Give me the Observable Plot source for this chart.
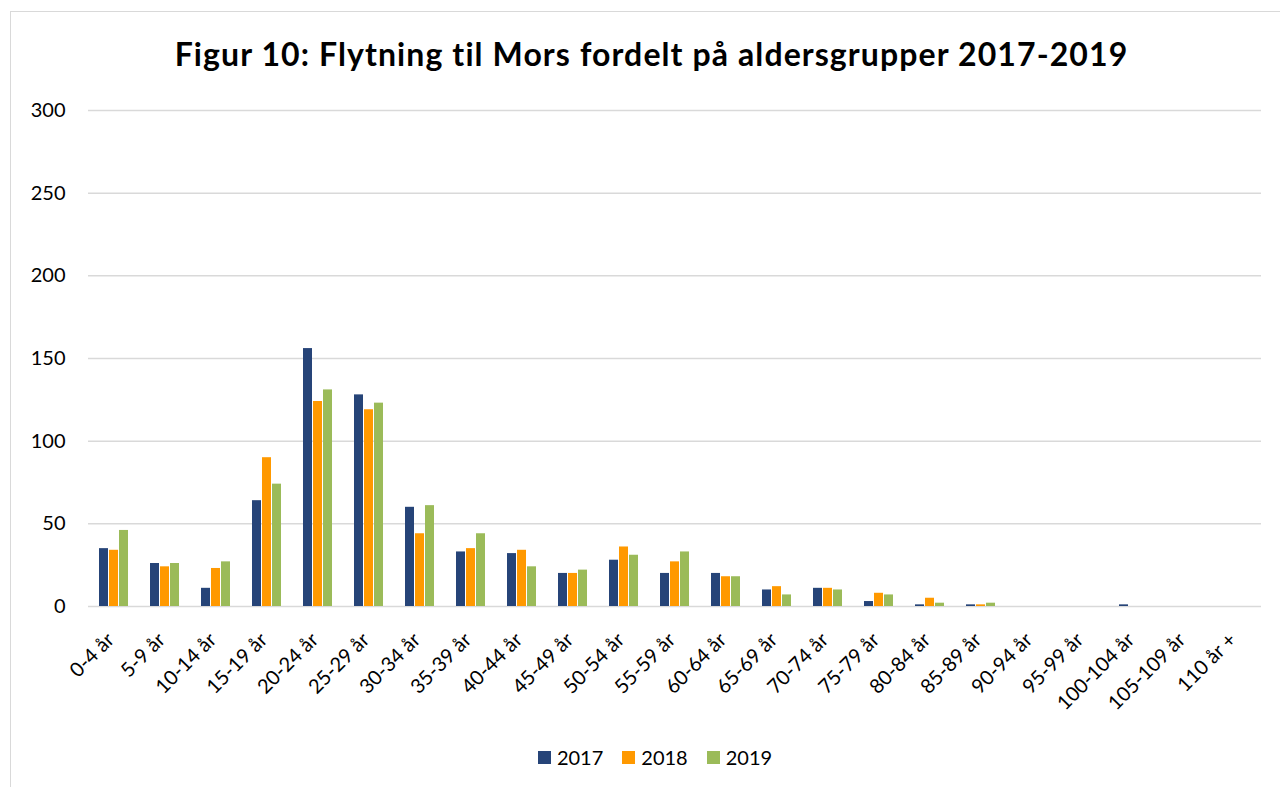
<!DOCTYPE html>
<html>
<head>
<meta charset="utf-8">
<script src="https://cdn.jsdelivr.net/npm/d3@7"></script>
<script src="https://cdn.jsdelivr.net/npm/@observablehq/plot@0.6"></script>
<style>
  html, body { margin: 0; padding: 0; background: #fff; overflow: hidden; }
  body { width: 1280px; height: 787px; position: relative; font-family: Lato, "Open Sans", sans-serif; }
  #frame { position: absolute; left: 10px; top: 11px; width: 1300px; height: 800px; border: 1.5px solid #d9d9d9; box-sizing: border-box; }
  #title { position: absolute; left: 0; top: 34px; width: 1303px; text-align: center; font-weight: 700; font-size: 32px; letter-spacing: 1.1px; color: #000; white-space: nowrap; }
  #chart { position: absolute; left: 0; top: 90px; }
  #legend { position: absolute; left: 0; top: 745px; width: 1310px; display: flex; justify-content: center; gap: 19px; font-size: 20px; color: #000; }
  #legend .item { display: flex; align-items: center; gap: 6px; }
  #legend .sw { width: 13px; height: 13px; display: inline-block; }
</style>
</head>
<body>
<div id="frame"></div>
<div id="title">Figur 10: Flytning til Mors fordelt på aldersgrupper 2017-2019</div>
<div id="chart"></div>
<div id="legend"></div>
<script>
const ageGroups = ["0-4 år","5-9 år","10-14 år","15-19 år","20-24 år","25-29 år","30-34 år","35-39 år","40-44 år","45-49 år","50-54 år","55-59 år","60-64 år","65-69 år","70-74 år","75-79 år","80-84 år","85-89 år","90-94 år","95-99 år","100-104 år","105-109 år","110 år +"];
const years = ["2017","2018","2019"];
const v2017 = [35,26,11,64,156,128,60,33,32,20,28,20,20,10,11,3,1,1,0,0,1,0,0];
const v2018 = [34,24,23,90,124,119,44,35,34,20,36,27,18,12,11,8,5,1,0,0,0,0,0];
const v2019 = [46,26,27,74,131,123,61,44,24,22,31,33,18,7,10,7,2,2,0,0,0,0,0];
const colors = ["#264478","#FF9900","#9BBB59"];
const yTicks = [0,50,100,150,200,250,300];

const series = [v2017, v2018, v2019];
const rows = [];
ageGroups.forEach((age, i) => {
  years.forEach((yr, j) => rows.push({age, year: yr, value: series[j][i]}));
});

const chart = Plot.plot({
  width: 1280,
  height: 626,
  marginTop: 20,
  marginBottom: 110,
  marginLeft: 86,
  marginRight: 17,
  style: {fontFamily: "Lato, 'Open Sans', sans-serif", background: "transparent"},
  fx: {domain: ageGroups, padding: 0, label: null},
  x: {domain: years, paddingInner: 0.08, paddingOuter: 0.865, axis: null},
  y: {domain: [0, 300], axis: null},
  color: {domain: years, range: colors},
  marks: [
    Plot.ruleY(yTicks, {stroke: "#d9d9d9", strokeWidth: 1.5}),
    Plot.barY(rows, {fx: "age", x: "year", y: "value", fill: "year"}),
    Plot.axisY({ticks: yTicks, tickSize: 0, tickPadding: 23, fontSize: 20, label: null, tickFormat: d => String(d)}),
    Plot.axisFx({anchor: "bottom", tickSize: 0, tickRotate: -45, fontSize: 20, tickPadding: 30, dx: -3, label: null})
  ]
});
document.getElementById("chart").appendChild(chart);

const legend = document.getElementById("legend");
years.forEach((yr, j) => {
  const it = document.createElement("div");
  it.className = "item";
  const sw = document.createElement("span");
  sw.className = "sw";
  sw.style.background = colors[j];
  const t = document.createElement("span");
  t.textContent = yr;
  it.appendChild(sw); it.appendChild(t);
  legend.appendChild(it);
});
</script>
</body>
</html>
